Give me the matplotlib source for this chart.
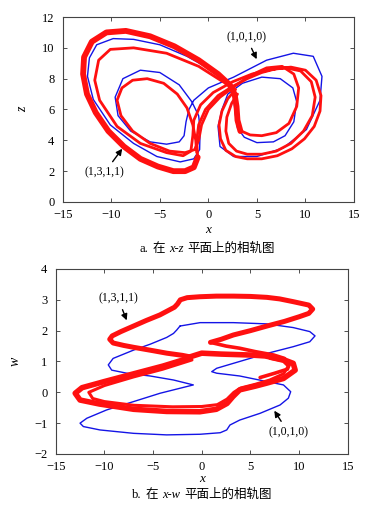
import matplotlib
matplotlib.use("Agg")
import matplotlib.pyplot as plt

plt.rcParams["font.family"] = ["Liberation Serif", "Noto Sans CJK SC"]

RED = "#ff1010"
BLUE = "#1414e6"

# ---------------------------------------------------------------- panel a: x-z
# red orbit (1,3,1,1), traced as pieces: (x, z)
red_a_thick = [(3.3, 4.6), (3.0, 5.3), (2.9, 6.2), (2.7, 7.0), (2.2, 7.6), (1.0, 8.3),
               (-1.0, 9.2), (-3.5, 10.1), (-6.0, 10.75), (-8.5, 11.1), (-10.5, 11.0),
               (-12.0, 10.4), (-12.8, 9.4), (-12.9, 8.3), (-12.5, 7.0), (-11.6, 5.8),
               (-10.3, 4.6), (-8.7, 3.6), (-7.0, 2.8), (-5.2, 2.3), (-3.6, 2.0),
               (-2.4, 2.0), (-1.5, 2.25), (-1.1, 2.9)]
red_a_outer = [(-1.1, 2.9), (-1.2, 4.0), (-1.0, 5.0), (-0.3, 6.0), (1.0, 6.9), (2.5, 7.5),
               (4.0, 8.0), (5.5, 8.4), (7.0, 8.65), (8.5, 8.75), (10.0, 8.55), (11.1, 7.9),
               (11.6, 6.9), (11.5, 5.9), (10.9, 4.9), (9.9, 4.1), (8.6, 3.45), (7.1, 3.0),
               (5.5, 2.8), (4.0, 2.8), (2.8, 2.95), (1.8, 3.35), (1.25, 4.1), (1.1, 5.0),
               (1.4, 5.9), (2.0, 6.7), (2.8, 7.3), (1.0, 8.0), (-1.0, 8.8), (-4.3, 9.65),
               (-7.7, 10.0), (-10.1, 9.9), (-11.3, 9.2), (-11.7, 7.9), (-11.2, 6.6),
               (-9.4, 4.9), (-7.0, 3.8), (-4.3, 3.2), (-2.6, 3.0), (-1.8, 3.3), (-1.6, 4.3),
               (-1.5, 5.3), (-0.8, 6.3), (0.5, 7.1), (2.5, 7.8), (4.5, 8.3), (6.5, 8.6),
               (8.0, 8.7), (9.5, 8.5), (10.6, 7.8), (11.0, 6.8), (10.7, 5.6), (9.8, 4.6),
               (8.5, 3.8), (7.0, 3.3), (5.5, 3.1), (4.0, 3.1), (2.9, 3.3), (2.1, 3.8),
               (1.8, 4.6), (1.9, 5.5), (2.4, 6.4), (3.0, 7.0)]
red_a_inner = [(3.0, 5.0), (3.4, 4.6), (4.3, 4.35), (5.5, 4.3), (7.0, 4.5), (8.3, 5.1),
               (9.1, 6.2), (9.3, 7.4), (8.8, 8.3), (7.6, 8.8), (6.0, 8.7), (4.3, 8.2),
               (2.7, 7.5), (1.2, 6.8), (0.0, 6.0), (-0.7, 5.0), (-1.0, 4.0), (-1.4, 3.4),
               (-2.4, 3.2), (-4.0, 3.3), (-6.0, 3.8), (-7.8, 4.6), (-9.0, 5.6), (-9.4, 6.6),
               (-8.9, 7.4), (-7.8, 7.9), (-6.3, 8.0), (-4.6, 7.7), (-3.2, 7.0), (-2.2, 6.1),
               (-1.6, 5.0), (-1.3, 4.0), (-1.2, 3.2)]

# blue orbit (1,0,1,0), one closed path
blue_a = [(2.4, 7.6), (0.5, 8.5), (-2.2, 9.45), (-5.0, 10.2), (-7.7, 10.55), (-9.8, 10.6),
          (-11.5, 10.2), (-12.25, 9.35), (-12.45, 8.15), (-11.85, 6.65), (-10.1, 5.0),
          (-7.7, 3.8), (-5.3, 2.95), (-2.9, 2.6), (-1.5, 2.8), (-0.9, 3.4), (-0.85, 4.7),
          (-1.0, 5.6), (-1.7, 6.5), (-3.0, 7.6), (-5.0, 8.4), (-7.0, 8.55), (-8.8, 8.0),
          (-9.6, 6.8), (-9.3, 5.6), (-8.0, 4.6), (-6.0, 3.9), (-4.3, 3.75), (-3.0, 3.9),
          (-2.5, 4.3), (-2.3, 5.2), (-2.0, 6.0), (-1.5, 6.6), (0.0, 7.4), (2.6, 8.1),
          (6.0, 9.2), (8.75, 9.65), (10.8, 9.45), (11.7, 8.15), (11.5, 6.6), (10.1, 4.7),
          (7.7, 3.5), (5.0, 2.95), (2.6, 2.95), (1.2, 3.6), (1.0, 4.9), (1.4, 6.0),
          (2.0, 7.0), (3.5, 7.7), (5.5, 8.1), (7.4, 8.0), (8.7, 7.4), (9.1, 6.5),
          (8.8, 5.2), (7.9, 4.3), (6.7, 3.9), (5.0, 3.85), (3.7, 4.2), (3.0, 4.8),
          (2.75, 5.8), (2.6, 6.8), (2.4, 7.6)]

# ---------------------------------------------------------------- panel b: x-w
red_b_top = [(0.9, 1.62), (2.0, 1.72), (3.25, 1.86), (5.0, 2.0), (6.7, 2.15), (8.5, 2.3),
             (10.0, 2.45), (11.0, 2.56), (11.4, 2.7), (11.0, 2.83), (9.4, 2.94), (8.0, 3.03),
             (6.7, 3.08), (5.0, 3.11), (3.25, 3.12), (1.5, 3.12), (-0.2, 3.1), (-1.5, 3.07),
             (-2.2, 3.0), (-2.5, 2.86), (-2.8, 2.76), (-4.3, 2.51), (-5.7, 2.33), (-7.0, 2.15),
             (-8.3, 1.97), (-9.2, 1.83), (-9.45, 1.72), (-9.1, 1.6), (-8.0, 1.52), (-7.0, 1.46),
             (-5.0, 1.35), (-3.6, 1.27), (-2.0, 1.2), (-1.2, 1.15)]
red_b_tip = [(0.9, 1.62), (2.5, 1.5), (3.9, 1.43), (5.5, 1.32), (7.4, 1.21), (8.5, 1.1),
             (9.0, 0.9), (8.8, 0.75), (7.5, 0.62), (6.0, 0.48)]
red_b_outer = [(-1.2, 1.12), (-4.0, 0.85), (-7.0, 0.6), (-10.0, 0.35), (-12.3, 0.15),
               (-13.0, -0.03), (-12.5, -0.25), (-10.5, -0.38), (-7.0, -0.55), (-3.6, -0.62),
               (-0.2, -0.63), (1.5, -0.55), (2.6, -0.36), (3.2, -0.14), (3.9, 0.08), (5.5, 0.2),
               (6.7, 0.3), (8.4, 0.45), (9.6, 0.72), (9.4, 0.94), (8.4, 1.06), (6.5, 1.18),
               (5.0, 1.21), (2.0, 1.24), (0.0, 1.27), (-0.5, 1.22), (-1.5, 1.12)]
red_b_inner = [(-1.0, 1.05), (-4.0, 0.75), (-7.0, 0.5), (-10.0, 0.22), (-11.6, 0.0),
               (-11.2, -0.2), (-10.0, -0.3), (-7.0, -0.42), (-3.0, -0.47), (0.0, -0.46),
               (1.6, -0.4), (2.6, -0.22), (3.3, 0.0), (4.0, 0.14), (5.5, 0.26), (7.0, 0.4),
               (8.4, 0.6), (8.9, 0.85), (8.4, 1.0), (7.0, 1.1)]

blue_b = [(-2.23, 2.15), (-0.17, 2.26), (3.25, 2.26), (6.68, 2.22), (9.4, 2.1), (11.1, 1.97),
          (11.64, 1.83), (11.1, 1.64), (9.4, 1.48), (6.68, 1.26), (3.25, 0.94), (1.54, 0.78),
          (1.03, 0.67), (1.54, 0.62), (3.9, 0.53), (6.68, 0.35), (8.4, 0.24), (9.14, 0.02),
          (8.9, -0.19), (8.05, -0.41), (6.0, -0.68), (3.9, -0.9), (2.9, -1.06), (2.57, -1.22),
          (1.9, -1.31), (-0.17, -1.36), (-3.6, -1.38), (-7.0, -1.33), (-10.45, -1.22),
          (-12.16, -1.11), (-12.5, -1.0), (-11.8, -0.84), (-9.76, -0.57), (-7.0, -0.3),
          (-4.28, -0.03), (-1.88, 0.16), (-0.86, 0.24), (-2.9, 0.4), (-5.3, 0.53), (-7.7, 0.62),
          (-9.25, 0.72), (-9.6, 0.89), (-9.1, 1.1), (-7.0, 1.37), (-5.3, 1.56), (-3.6, 1.78),
          (-2.9, 1.91), (-2.57, 2.02), (-2.23, 2.15)]

caption_a = [("a.", "normal"), ("在", "normal"), ("x-z", "italic"), ("平面上的相轨图", "normal")]
caption_b = [("b.", "normal"), ("在", "normal"), ("x-w", "italic"), ("平面上的相轨图", "normal")]


def line(ax, pts, color, lw):
    xs = [p[0] for p in pts]
    ys = [p[1] for p in pts]
    ax.plot(xs, ys, color=color, lw=lw, solid_capstyle="round", solid_joinstyle="round")


def style(ax, ylim, yticks, ylabel, xpad):
    ax.set_xlim(-15, 15)
    ax.set_ylim(*ylim)
    ax.set_xticks(range(-15, 16, 5))
    ax.set_yticks(yticks)
    ax.tick_params(direction="in", top=True, right=True, length=3, width=0.6,
                   labelsize=9, colors="#333333", labelcolor="black")
    ax.tick_params(axis="x", pad=5)
    ax.tick_params(axis="y", pad=6)
    for s in ax.spines.values():
        s.set_color("#444444")
        s.set_linewidth(0.8)
    ax.set_xlabel("x", fontsize=9.5, style="italic", labelpad=xpad)
    ax.set_ylabel(ylabel, fontsize=10, style="italic", labelpad=9)


def caption(fig, xc, yc, parts, gap=4):
    # lay the pieces out left to right, then centre the whole line on xc
    r = fig.canvas.get_renderer()
    W = fig.bbox.width
    items, x = [], 0.0
    for s, st in parts:
        t = fig.text(0, yc, s, style=st, fontsize=9, va="center", ha="left")
        w = t.get_window_extent(r).width
        items.append((t, x))
        x += w + gap
    total = x - gap
    x0 = xc * W - total / 2
    for t, off in items:
        t.set_x((x0 + off) / W)


fig = plt.figure(figsize=(3.68, 5.08), dpi=100)
ax1 = fig.add_axes([0.1704, 0.6024, 0.7916, 0.3641])
ax2 = fig.add_axes([0.1514, 0.1063, 0.7935, 0.3642])

line(ax1, blue_a, BLUE, 1.0)
line(ax1, red_a_outer, RED, 2.0)
line(ax1, red_a_inner, RED, 2.0)
line(ax1, red_a_thick, RED, 4.2)
style(ax1, (0, 12), range(0, 13, 2), "z", 2)

arrow = dict(arrowstyle="-|>", color="black", lw=1.0, mutation_scale=9)
ax1.annotate("(1,0,1,0)", xy=(5.1, 9.1), xytext=(3.9, 10.7), fontsize=8.5,
             ha="center", va="center", arrowprops=arrow)
ax1.annotate("(1,3,1,1)", xy=(-8.7, 3.6), xytext=(-10.7, 1.9), fontsize=8.5,
             ha="center", va="center", arrowprops=arrow)

line(ax2, blue_b, BLUE, 1.0)
line(ax2, red_b_inner, RED, 2.2)
line(ax2, red_b_tip, RED, 2.6)
line(ax2, red_b_outer, RED, 4.0)
line(ax2, red_b_top, RED, 3.6)
style(ax2, (-2, 4), range(-2, 5), "w", 0)

ax2.annotate("(1,3,1,1)", xy=(-7.6, 2.25), xytext=(-8.6, 3.05), fontsize=8.5,
             ha="center", va="center", arrowprops=arrow)
ax2.annotate("(1,0,1,0)", xy=(7.3, -0.52), xytext=(8.9, -1.3), fontsize=8.5,
             ha="center", va="center", arrowprops=arrow)

caption(fig, 0.564, 1 - 249 / 508, caption_a)
caption(fig, 0.548, 1 - 495 / 508, caption_b)

fig.savefig("out.png", dpi=100)
